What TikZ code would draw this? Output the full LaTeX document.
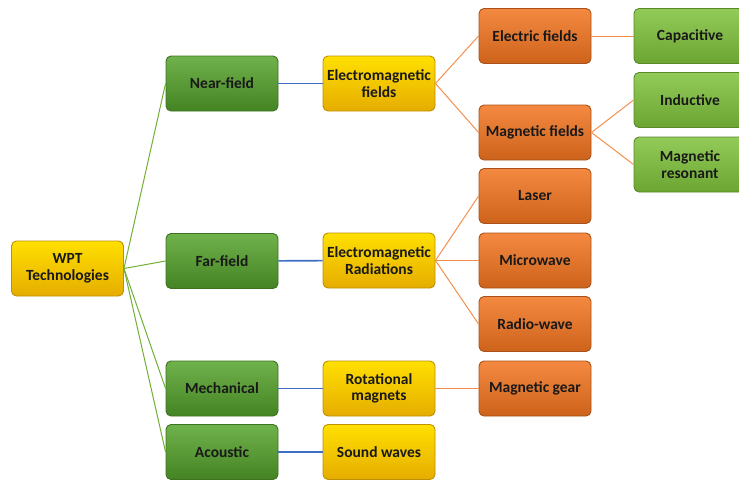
\documentclass[tikz,border=0pt]{standalone}
\usepackage{fontspec}
\setmainfont{Carlito}
\usetikzlibrary{positioning,calc}
\definecolor{wptgreen}{HTML}{56A42C}
\definecolor{wptleaf}{HTML}{80C23C}
\definecolor{wptyellow}{HTML}{FFC000}
\definecolor{wptorange}{HTML}{F27420}
\definecolor{wptblue}{HTML}{3C6EC4}

\begin{document}
\begin{tikzpicture}[x=1pt, y=-1pt,
  box/.style={rounded corners=5pt, minimum width=112pt, minimum height=55pt,
              inner sep=1pt, align=center, line width=0.9pt,
              font=\fontsize{15.5}{16.5}\selectfont\bfseries, text=black!90},
  lvlone/.style={box, draw=wptgreen!70!black, top color=wptgreen!85!white,
                 bottom color=wptgreen!80!black},
  leaf/.style={box, draw=wptleaf!70!black, top color=wptleaf!85!white,
               bottom color=wptleaf!85!black},
  kind/.style={box, draw=wptyellow!75!black, top color=wptyellow!50!yellow,
               bottom color=wptyellow!90!black},
  tech/.style={box, draw=wptorange!70!black, top color=wptorange!85!white,
               bottom color=wptorange!85!black},
  greenline/.style={line width=1pt, wptleaf!90!black},
  blueline/.style={line width=1.6pt, wptblue},
  orangeline/.style={line width=1pt, wptorange!80},
]
\useasboundingbox (0,0) rectangle (739,498);

% Root
\node[kind] (wpt) at (67.5,268.5) {WPT\\Technologies};

% Column 1: field types
\node[lvlone] (near) at (222,83.5) {Near-field};
\node[lvlone] (far)  at (222,261) {Far-field};
\node[lvlone] (mech) at (222,388.5) {Mechanical};
\node[lvlone] (acou) at (222,452) {Acoustic};

% Column 2: carriers
\node[kind] (emf)  at (379,83.5) {Electromagnetic\\fields};
\node[kind] (emr)  at (379,260.5) {Electromagnetic\\Radiations};
\node[kind] (rot)  at (379,388.5) {Rotational\\magnets};
\node[kind] (snd)  at (379,452) {Sound waves};

% Column 3: mechanisms
\node[tech] (elec)  at (535,36) {Electric fields};
\node[tech] (magn)  at (535,132.5) {Magnetic fields};
\node[tech] (laser) at (535,196) {Laser};
\node[tech] (micro) at (535,260.5) {Microwave};
\node[tech] (radio) at (535,324) {Radio-wave};
\node[tech] (gear)  at (535,388.5) {Magnetic gear};

% Column 4: coupling
\node[leaf] (cap) at (690,36) {Capacitive};
\node[leaf] (ind) at (690,100) {Inductive};
\node[leaf] (res) at (690,164.5) {Magnetic\\resonant};

% Root to field types
\draw[greenline] (wpt.east) -- (near.west);
\draw[greenline] (wpt.east) -- (far.west);
\draw[greenline] (wpt.east) -- (mech.west);
\draw[greenline] (wpt.east) -- (acou.west);

% Field types to carriers
\draw[blueline] (near) -- (emf);
\draw[blueline] (far) -- (emr);
\draw[blueline, line width=1pt] (mech) -- (rot);
\draw[blueline] (acou) -- (snd);

% Carriers to mechanisms
\draw[orangeline] (emf.east) -- (elec.west);
\draw[orangeline] (emf.east) -- (magn.west);
\draw[orangeline] (emr.east) -- (laser.west);
\draw[orangeline] (emr.east) -- (micro.west);
\draw[orangeline] (emr.east) -- (radio.west);
\draw[orangeline, line width=0.6pt] (rot) -- (gear);

% Mechanisms to coupling
\draw[orangeline] (elec) -- (cap);
\draw[orangeline] (magn.east) -- (ind.west);
\draw[orangeline] (magn.east) -- (res.west);

\end{tikzpicture}
\end{document}
